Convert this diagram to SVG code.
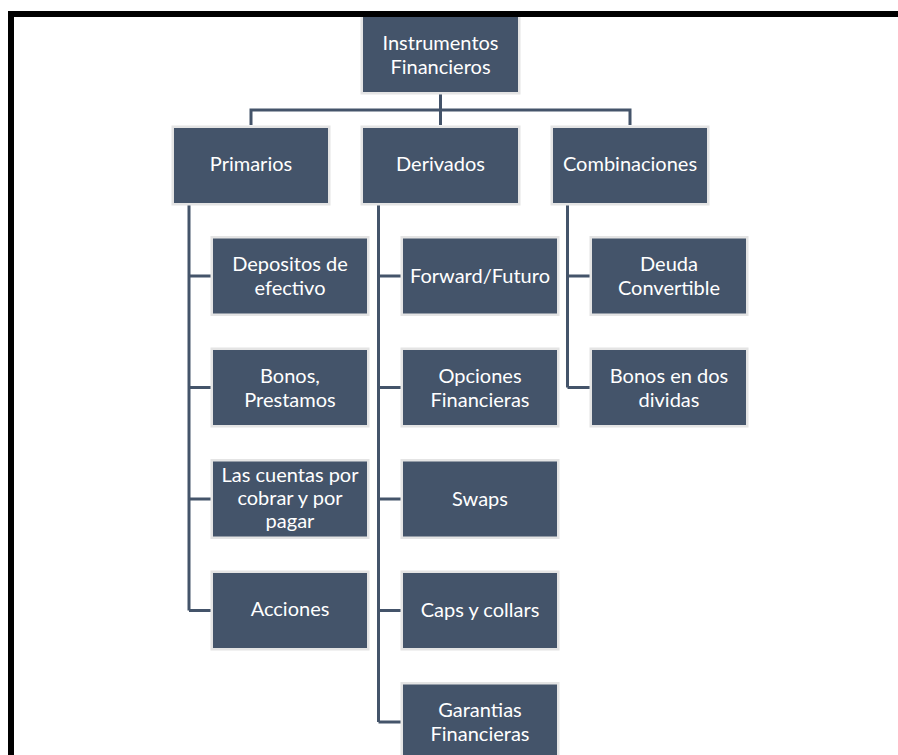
<svg xmlns="http://www.w3.org/2000/svg" width="898" height="755" viewBox="0 0 898 755">
<style>
.box{fill:#44546A;stroke:#E4E4E4;stroke-width:5;paint-order:stroke}
.t{font-family:Lato,"Liberation Sans",sans-serif;font-size:20px;fill:#FFFFFF;text-anchor:middle}
.c{fill:none;stroke:#44546A;stroke-width:3}
</style>
<rect width="898" height="755" fill="#FFFFFF"/>
<g id="connectors">
<path class="c" d="M440.5,92 V125 M251,125 V110 H630 V125"/>
<path class="c" d="M189,203 V610.5 M189,276 H213 M189,387.5 H213 M189,499 H213 M189,610.5 H213"/>
<path class="c" d="M378.5,203 V722 M378.5,276 H403 M378.5,387.5 H403 M378.5,499 H403 M378.5,610.5 H403 M378.5,722 H403"/>
<path class="c" d="M567.5,203 V387.5 M567.5,276 H592 M567.5,387.5 H592"/>
</g>
<g id="n-root"><rect class="box" x="363" y="17" width="155" height="75"/><text class="t" x="440.5" y="49.5">Instrumentos</text><text class="t" x="440.5" y="73.5">Financieros</text></g>
<g id="n-primarios"><rect class="box" x="174" y="128" width="154" height="75"/><text class="t" x="251" y="171">Primarios</text></g>
<g id="n-derivados"><rect class="box" x="363" y="128" width="155" height="75"/><text class="t" x="440.5" y="171">Derivados</text></g>
<g id="n-combinaciones"><rect class="box" x="553" y="128" width="154" height="75"/><text class="t" x="630" y="171">Combinaciones</text></g>
<g id="n-depositos"><rect class="box" x="213" y="238.5" width="154" height="75"/><text class="t" x="290" y="271">Depositos de</text><text class="t" x="290" y="295">efectivo</text></g>
<g id="n-bonos"><rect class="box" x="213" y="350" width="154" height="75"/><text class="t" x="290" y="382.5">Bonos,</text><text class="t" x="290" y="406.5">Prestamos</text></g>
<g id="n-cuentas"><rect class="box" x="213" y="461.5" width="154" height="75"/><text class="t" x="290" y="482">Las cuentas por</text><text class="t" x="290" y="505">cobrar y por</text><text class="t" x="290" y="528">pagar</text></g>
<g id="n-acciones"><rect class="box" x="213" y="573" width="154" height="75"/><text class="t" x="290" y="616">Acciones</text></g>
<g id="n-forward"><rect class="box" x="403" y="238.5" width="154" height="75"/><text class="t" x="480" y="283">Forward/Futuro</text></g>
<g id="n-opciones"><rect class="box" x="403" y="350" width="154" height="75"/><text class="t" x="480" y="382.5">Opciones</text><text class="t" x="480" y="406.5">Financieras</text></g>
<g id="n-swaps"><rect class="box" x="403" y="461.5" width="154" height="75"/><text class="t" x="480" y="506">Swaps</text></g>
<g id="n-caps"><rect class="box" x="403" y="573" width="154" height="75"/><text class="t" x="480" y="617">Caps y collars</text></g>
<g id="n-garantias"><rect class="box" x="403" y="684.5" width="154" height="75"/><text class="t" x="480" y="717">Garantias</text><text class="t" x="480" y="741">Financieras</text></g>
<g id="n-deuda"><rect class="box" x="592" y="238.5" width="154" height="75"/><text class="t" x="669" y="271">Deuda</text><text class="t" x="669" y="295">Convertible</text></g>
<g id="n-bonosdos"><rect class="box" x="592" y="350" width="154" height="75"/><text class="t" x="669" y="382.5">Bonos en dos</text><text class="t" x="669" y="406.5">dividas</text></g>
<path id="frame" d="M11,755 V14 H898" fill="none" stroke="#000000" stroke-width="6"/>
</svg>
